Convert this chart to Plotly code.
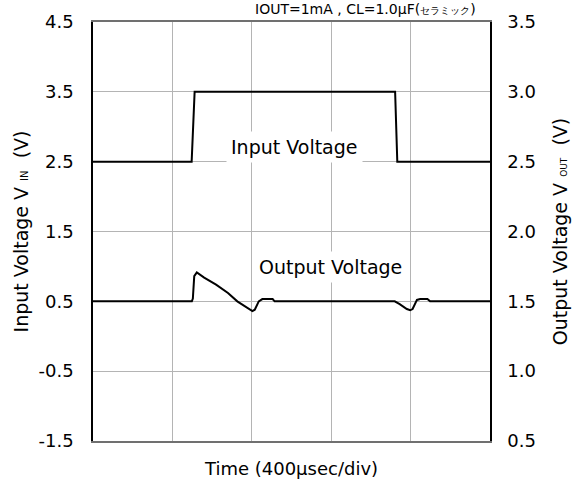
import plotly.graph_objects as go

# Time in microseconds (400 usec/div, 5 divisions)
t_in = [0, 497, 512, 1522, 1533, 2000]
v_in = [2.5, 2.5, 3.5, 3.5, 2.5, 2.5]

t_out = [0, 498, 503, 510, 523, 560, 620, 680, 727, 760, 790, 803, 815, 835, 853, 880, 905, 915,
         1520, 1545, 1581, 1598, 1610, 1632, 1648, 1685, 1698, 2000]
v_out = [1.5, 1.5, 1.52, 1.68, 1.707, 1.67, 1.62, 1.56, 1.5, 1.47, 1.445, 1.43, 1.44, 1.5, 1.516, 1.516, 1.516, 1.5,
         1.5, 1.48, 1.445, 1.436, 1.445, 1.51, 1.516, 1.516, 1.5, 1.5]

left_ticks = [4.5, 3.5, 2.5, 1.5, 0.5, -0.5, -1.5]
right_ticks = [3.5, 3.0, 2.5, 2.0, 1.5, 1.0, 0.5]

FONT = "DejaVu Sans, Arial, sans-serif"
NB = "\u00a0"

fig = go.Figure()
fig.add_trace(go.Scatter(x=t_in, y=v_in, mode="lines", line=dict(color="black", width=2), yaxis="y", showlegend=False))
fig.add_trace(go.Scatter(x=t_out, y=v_out, mode="lines", line=dict(color="black", width=2), yaxis="y2", showlegend=False))

W, H = 573, 485
L, R, T, B = 93, 83, 22, 44

fig.update_layout(
    width=W, height=H,
    margin=dict(l=L, r=R, t=T, b=B, autoexpand=False),
    paper_bgcolor="white", plot_bgcolor="white",
    font=dict(family=FONT, color="black", size=18),
    xaxis=dict(range=[0, 2000], dtick=400, tick0=0, showticklabels=False, ticks="",
               showgrid=True, gridcolor="#b4b4b4", gridwidth=1,
               showline=True, linecolor="#707070", linewidth=1.5, mirror=True, zeroline=False,
               title=dict(text="Time (400µsec/div)", font=dict(size=18), standoff=21)),
    yaxis=dict(range=[-1.5, 4.5], tickvals=left_ticks, ticktext=["%.1f" % v for v in left_ticks],
               showgrid=True, gridcolor="#b4b4b4", gridwidth=1, zeroline=False,
               showline=True, linecolor="black", linewidth=1.5, ticks="", ticklabelstandoff=14,
               tickfont=dict(size=18),
               title=dict(text="Input Voltage V <span style='font-size:10px'>IN</span>" + NB * 2 + "(V)",
                          font=dict(size=19), standoff=5)),
    yaxis2=dict(range=[0.5, 3.5], tickvals=right_ticks, ticktext=["%.1f" % v for v in right_ticks],
                overlaying="y", side="right", showgrid=False, zeroline=False,
                showline=True, linecolor="black", linewidth=1.5, ticks="", ticklabelstandoff=12,
                tickfont=dict(size=18),
                title=dict(text="Output Voltage V <span style='font-size:9px'>OUT</span>" + NB * 2 + "(V)",
                           font=dict(size=19), standoff=19)),
)

plot_w = W - L - R
plot_h = H - T - B

def px(x):
    return (x - L) / plot_w

def py(y):
    return (H - B - y) / plot_h

fig.add_annotation(x=px(294), y=py(147), xref="paper", yref="paper", text="Input Voltage", showarrow=False,
                   font=dict(size=19), bgcolor="white", borderpad=4, xanchor="center", yanchor="middle")
fig.add_annotation(x=px(330), y=py(267), xref="paper", yref="paper", text="Output Voltage", showarrow=False,
                   font=dict(size=19), bgcolor="white", borderpad=4, xanchor="center", yanchor="middle")
fig.add_annotation(x=px(365), y=py(9), xref="paper", yref="paper",
                   text="IOUT=1mA , CL=1.0µF(<span style='font-size:10px'>セラミック</span>)",
                   showarrow=False, font=dict(size=14), xanchor="center", yanchor="middle")

fig.write_html("out.html", config={"displayModeBar": False},
               post_script="document.body.style.margin='0px';")
